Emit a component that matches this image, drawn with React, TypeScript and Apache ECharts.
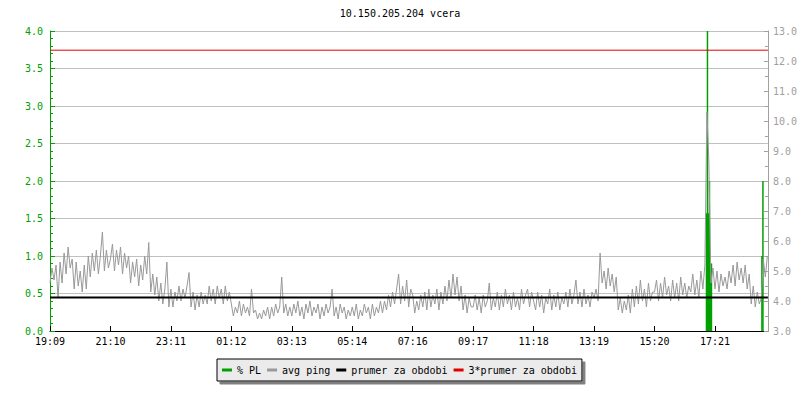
import React, { useEffect, useRef } from "react";
import * as echarts from "echarts";

const TITLE = "10.150.205.204 vcera";
const FONT = "'DejaVu Sans Mono', 'Liberation Mono', monospace";

// x axis: minutes since 19:09, one label every 121 minutes
const xLabels = ["19:09", "21:10", "23:11", "01:12", "03:13", "05:14", "07:16", "09:17", "11:18", "13:19", "15:20", "17:21"];
const LABEL_STEP_MIN = 121;
const SAMPLES_PER_LABEL = 30;
const PERIOD_MIN = 1437;

// avg ping (right axis), one array per labelled 2-hour block
const ping1909 = [4.6, 5.1, 4.7, 5.2, 4.1, 5.3, 4.6, 5.6, 4.9, 5.8, 5.1, 5.4, 4.4, 5.3, 4.5, 5.0, 4.3, 5.2, 4.4, 5.5, 4.8, 5.6, 5.0, 5.7, 4.9, 5.5, 6.3, 5.0, 5.7, 5.1];
const ping2110 = [5.4, 5.9, 5.0, 5.7, 5.2, 5.8, 4.9, 5.6, 5.1, 5.5, 4.6, 5.3, 4.8, 5.4, 4.5, 5.2, 4.7, 5.5, 4.9, 5.95, 4.3, 4.9, 4.2, 4.8, 4.0, 4.6, 3.9, 4.4, 5.3, 3.8];
const ping2311 = [4.4, 3.8, 4.3, 4.0, 4.5, 4.0, 4.4, 4.1, 4.5, 4.95, 3.8, 4.3, 3.7, 4.2, 3.8, 4.3, 3.9, 4.2, 3.9, 4.5, 4.0, 4.4, 3.9, 4.5, 4.1, 4.4, 3.9, 4.5, 4.0, 4.3];
const ping0112 = [3.9, 3.5, 3.8, 3.6, 4.0, 3.5, 3.9, 3.6, 3.8, 3.5, 4.4, 3.6, 3.7, 3.4, 3.6, 3.4, 3.7, 3.5, 3.8, 3.4, 3.8, 3.5, 3.9, 3.6, 3.8, 4.8, 3.6, 3.9, 3.5, 3.8];
const ping0313 = [3.5, 3.9, 3.6, 4.0, 3.5, 3.8, 3.4, 3.9, 3.6, 4.0, 3.5, 3.8, 3.6, 3.9, 3.4, 3.8, 3.5, 3.9, 3.6, 3.8, 4.4, 3.5, 3.8, 3.4, 3.9, 3.6, 3.8, 3.4, 3.7, 3.5];
const ping0514 = [3.8, 3.5, 3.9, 3.4, 3.7, 3.5, 3.9, 3.6, 3.8, 3.4, 3.9, 3.5, 3.8, 3.6, 4.0, 3.6, 4.0, 3.7, 4.2, 3.8, 4.3, 3.9, 4.4, 4.9, 3.9, 4.5, 4.0, 4.7, 3.8, 4.4];
const ping0716 = [4.2, 3.6, 4.0, 3.7, 4.2, 3.8, 4.3, 3.7, 4.4, 3.8, 4.2, 3.9, 4.4, 3.7, 4.3, 3.9, 4.5, 4.0, 4.7, 4.1, 4.9, 4.2, 4.8, 4.0, 4.5, 3.7, 4.2, 3.6, 4.1, 3.8];
const ping0917 = [3.8, 4.2, 3.7, 4.1, 3.6, 4.2, 3.8, 4.0, 4.6, 3.7, 4.1, 3.8, 4.3, 3.7, 4.2, 3.8, 4.4, 3.9, 4.2, 3.7, 4.3, 3.8, 4.1, 3.7, 4.4, 3.9, 4.2, 4.4, 3.8, 4.3];
const ping1118 = [4.0, 3.7, 4.3, 3.8, 4.2, 3.6, 4.1, 3.9, 4.4, 3.7, 4.2, 3.8, 4.3, 3.7, 4.1, 3.9, 4.3, 3.8, 4.4, 3.9, 4.2, 4.7, 3.9, 4.3, 3.8, 4.4, 3.9, 4.2, 3.8, 4.3];
const ping1319 = [4.1, 4.4, 4.0, 5.6, 4.6, 5.0, 4.4, 5.1, 4.5, 4.9, 4.3, 4.8, 3.7, 4.1, 3.6, 4.0, 3.7, 4.2, 3.6, 4.4, 3.8, 4.5, 3.9, 4.7, 4.0, 4.4, 3.8, 4.6, 4.0, 4.3];
const ping1520 = [4.3, 4.7, 4.0, 4.6, 4.1, 4.8, 4.2, 4.5, 4.0, 4.7, 4.1, 4.6, 4.0, 4.8, 4.2, 4.6, 4.1, 4.5, 4.3, 4.9, 4.2, 4.7, 4.1, 5.0, 4.4, 5.2, 10.3, 8.6, 4.6, 5.1];
const ping1721 = [4.4, 5.0, 4.3, 4.9, 4.5, 4.8, 4.4, 5.0, 4.6, 5.2, 4.5, 5.3, 4.7, 5.1, 4.6, 5.2, 4.4, 4.9, 3.9, 4.5, 3.8, 4.3, 3.9, 4.1, 5.4, 4.8, 5.5];

// % packet loss (left axis): minute offsets and values
const plMinutes = [1314, 1316, 1318, 1320, 1322, 1324, 1425, 1427];
const plValues = [1.57, 4.5, 1.57, 2.0, 0.9, 0.9, 1.0, 2.0];

// average of avg ping over the period
const prumer = 4.12;

const legendNames = ["% PL", "avg ping", "prumer za obdobi", "3*prumer za obdobi"];

export default function App() {
  const ref = useRef<HTMLDivElement>(null);

  useEffect(() => {
    document.body.style.margin = "0";
    if (!ref.current) return;
    const chart = echarts.init(ref.current, undefined, { renderer: "svg" });

    const step = LABEL_STEP_MIN / SAMPLES_PER_LABEL;
    const pingAll = [
      ...ping1909, ...ping2110, ...ping2311, ...ping0112, ...ping0313, ...ping0514,
      ...ping0716, ...ping0917, ...ping1118, ...ping1319, ...ping1520, ...ping1721,
    ];
    const pingData = pingAll.map((v, i) => [i * step, v]);
    const plData = plMinutes.map((t, i) => [t, plValues[i]]);

    const green = "#00a000";
    const gray = "#999999";
    const axisGray = "#a0a0a0";

    chart.setOption({
      animation: false,
      backgroundColor: "#ffffff",
      title: {
        text: TITLE,
        left: "center",
        top: 3,
        textStyle: { fontFamily: FONT, fontSize: 10, fontWeight: "normal", color: "#000" },
      },
      legend: {
        data: legendNames,
        left: 217,
        top: 359,
        orient: "horizontal",
        padding: [6, 5, 6, 5],
        itemGap: 6,
        itemWidth: 10,
        itemHeight: 3,
        icon: "rect",
        backgroundColor: "#ebebeb",
        borderColor: "#000",
        borderWidth: 1,
        shadowColor: "#808080",
        shadowOffsetX: 3,
        shadowOffsetY: 3,
        shadowBlur: 0,
        selectedMode: false,
        textStyle: { fontFamily: FONT, fontSize: 10, color: "#000" },
      },
      grid: { left: 50, right: 30, top: 31, bottom: 69, containLabel: false },
      xAxis: {
        type: "value",
        min: 0,
        max: PERIOD_MIN,
        interval: LABEL_STEP_MIN,
        axisLine: { show: true, onZero: false, lineStyle: { color: "#000", width: 1 } },
        axisTick: { show: true, inside: true, length: 5, lineStyle: { color: "#000" } },
        splitLine: { show: false },
        axisLabel: {
          margin: 5,
          fontFamily: FONT,
          fontSize: 10,
          color: "#000",
          showMaxLabel: false,
          formatter: (v: number) => {
            const k = Math.round(v / LABEL_STEP_MIN);
            return Math.abs(v - k * LABEL_STEP_MIN) < 0.01 && xLabels[k] ? xLabels[k] : "";
          },
        },
      },
      yAxis: [
        {
          type: "value",
          position: "left",
          min: 0,
          max: 4,
          interval: 0.5,
          axisLine: { show: true, lineStyle: { color: green, width: 1 } },
          axisTick: { show: true, inside: true, length: 5, lineStyle: { color: green } },
          minorTick: { show: true, splitNumber: 5, length: 3, lineStyle: { color: green } },
          splitLine: { show: true, lineStyle: { color: "#c0c0c0", width: 1 } },
          axisLabel: {
            margin: 7,
            fontFamily: FONT,
            fontSize: 10,
            color: green,
            formatter: (v: number) => v.toFixed(1),
          },
        },
        {
          type: "value",
          position: "right",
          min: 3,
          max: 13,
          interval: 1,
          axisLine: { show: true, lineStyle: { color: axisGray, width: 1 } },
          axisTick: { show: true, inside: true, length: 4, lineStyle: { color: axisGray } },
          minorTick: { show: true, splitNumber: 2, length: 3, lineStyle: { color: axisGray } },
          splitLine: { show: false },
          axisLabel: {
            margin: 5,
            fontFamily: FONT,
            fontSize: 10,
            color: axisGray,
            formatter: (v: number) => v.toFixed(1),
          },
        },
      ],
      series: [
        {
          name: "% PL",
          type: "bar",
          yAxisIndex: 0,
          barWidth: 1.5,
          color: green,
          itemStyle: { color: green },
          data: plData,
        },
        {
          name: "avg ping",
          type: "line",
          yAxisIndex: 1,
          symbol: "none",
          color: gray,
          lineStyle: { color: gray, width: 1 },
          data: pingData,
        },
        {
          name: "prumer za obdobi",
          type: "line",
          yAxisIndex: 1,
          symbol: "none",
          color: "#000",
          lineStyle: { color: "#000", width: 2 },
          data: [[0, prumer], [PERIOD_MIN, prumer]],
        },
        {
          name: "3*prumer za obdobi",
          type: "line",
          yAxisIndex: 1,
          symbol: "none",
          color: "#e00000",
          lineStyle: { color: "#e00000", width: 1 },
          data: [[0, 3 * prumer], [PERIOD_MIN, 3 * prumer]],
        },
      ],
    });

    return () => chart.dispose();
  }, []);

  return (
    <div
      ref={ref}
      style={{ position: "fixed", left: 0, top: 0, width: 800, height: 400, background: "#fff" }}
    />
  );
}
